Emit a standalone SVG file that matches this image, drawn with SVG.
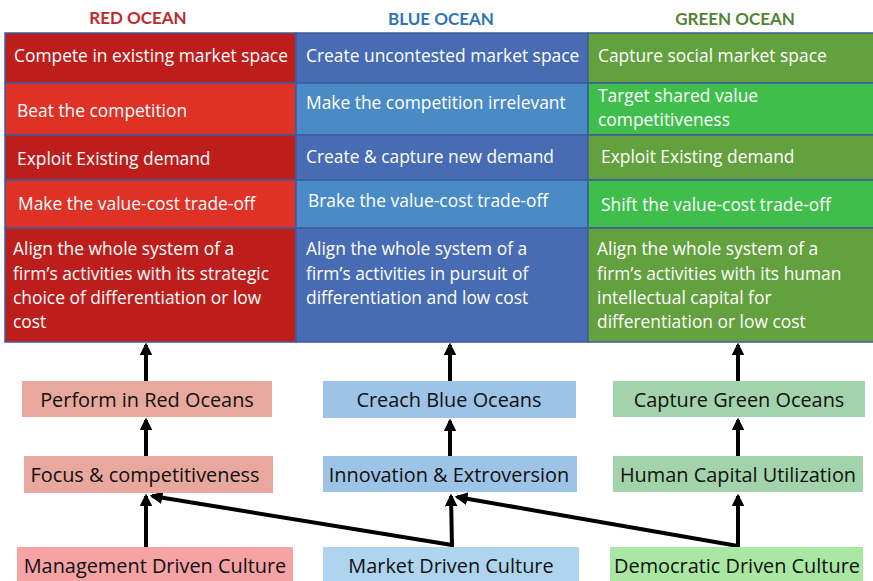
<svg xmlns="http://www.w3.org/2000/svg" width="873" height="581" viewBox="0 0 873 581">
<style>
.t{font-family:"Open Sans","Noto Sans","DejaVu Sans",sans-serif;}
.title{font-family:Lato,"Open Sans",sans-serif;font-size:17px;font-weight:bold;text-anchor:middle;}
.cell{stroke:#3E5C9A;stroke-width:1.5;}
.ct{fill:#fff;font-size:17.4px;}
.bt{fill:#111;font-size:19.9px;text-anchor:middle;}
.arr{stroke:#000;stroke-width:4;fill:none;marker-end:url(#ah);}
</style>
<defs>
<marker id="ah" markerWidth="3.2" markerHeight="3.2" refX="2.6" refY="1.6" orient="auto" markerUnits="strokeWidth" viewBox="0 0 3.2 3.2">
<path d="M0,0 L3.2,1.6 L0,3.2 Z" fill="#000"/>
</marker>
</defs>
<rect width="873" height="581" fill="#fff"/>
<g id="titles">
<text class="title" x="138" y="24" fill="#C0282A">RED OCEAN</text>
<text class="title" x="441" y="25" fill="#2E75B6">BLUE OCEAN</text>
<text class="title" x="735" y="25" fill="#548235">GREEN OCEAN</text>
</g>
<g id="red-column" class="t">
<rect class="cell" x="5" y="33" width="291" height="50" fill="#BE1E1B"/>
<rect class="cell" x="5" y="83" width="291" height="52" fill="#E03127"/>
<rect class="cell" x="5" y="135" width="291" height="45" fill="#BE1E1B"/>
<rect class="cell" x="5" y="180" width="291" height="48" fill="#E03127"/>
<rect class="cell" x="5" y="228" width="291" height="114" fill="#BE1E1B"/>
<text class="ct" x="14" y="62">Compete in existing market space</text>
<text class="ct" x="17" y="117">Beat the competition</text>
<text class="ct" x="17" y="165">Exploit Existing demand</text>
<text class="ct" x="18" y="210">Make the value-cost trade-off</text>
<text class="ct" x="13" y="255">Align the whole system of a</text>
<text class="ct" x="13" y="280">firm’s activities with its strategic</text>
<text class="ct" x="13" y="304">choice of differentiation or low</text>
<text class="ct" x="13" y="328">cost</text>
</g>
<g id="blue-column" class="t">
<rect class="cell" x="296" y="33" width="292" height="50" fill="#476CB4"/>
<rect class="cell" x="296" y="83" width="292" height="52" fill="#4A8BC6"/>
<rect class="cell" x="296" y="135" width="292" height="45" fill="#476CB4"/>
<rect class="cell" x="296" y="180" width="292" height="48" fill="#4A8BC6"/>
<rect class="cell" x="296" y="228" width="292" height="114" fill="#476CB4"/>
<text class="ct" x="306" y="62">Create uncontested market space</text>
<text class="ct" x="306" y="109">Make the competition irrelevant</text>
<text class="ct" x="306" y="163">Create &amp; capture new demand</text>
<text class="ct" x="308" y="207">Brake the value-cost trade-off</text>
<text class="ct" x="306" y="255">Align the whole system of a</text>
<text class="ct" x="306" y="280">firm’s activities in pursuit of</text>
<text class="ct" x="306" y="304">differentiation and low cost</text>
</g>
<g id="green-column" class="t">
<rect class="cell" x="588" y="33" width="290" height="50" fill="#63A03E"/>
<rect class="cell" x="588" y="83" width="290" height="52" fill="#3FBE4B"/>
<rect class="cell" x="588" y="135" width="290" height="45" fill="#63A03E"/>
<rect class="cell" x="588" y="180" width="290" height="48" fill="#3FBE4B"/>
<rect class="cell" x="588" y="228" width="290" height="114" fill="#63A03E"/>
<text class="ct" x="598" y="62">Capture social market space</text>
<text class="ct" x="598" y="102">Target shared value</text>
<text class="ct" x="598" y="126">competitiveness</text>
<text class="ct" x="601" y="163">Exploit Existing demand</text>
<text class="ct" x="601" y="211">Shift the value-cost trade-off</text>
<text class="ct" x="597" y="255">Align the whole system of a</text>
<text class="ct" x="597" y="280">firm’s activities with its human</text>
<text class="ct" x="597" y="304">intellectual capital for</text>
<text class="ct" x="597" y="328">differentiation or low cost</text>
</g>
<g id="connectors">
<line class="arr" x1="146" y1="381" x2="146" y2="345"/>
<line class="arr" x1="146" y1="456" x2="146" y2="420"/>
<line class="arr" x1="146" y1="547" x2="146" y2="496"/>
<line class="arr" x1="450" y1="381" x2="450" y2="345"/>
<line class="arr" x1="450" y1="456" x2="450" y2="421"/>
<line class="arr" x1="452" y1="547" x2="451" y2="496"/>
<line class="arr" x1="738" y1="381" x2="738" y2="345"/>
<line class="arr" x1="738" y1="456" x2="738" y2="420"/>
<line class="arr" x1="738" y1="547" x2="738" y2="496"/>
<polyline class="arr" points="452,545 152,496"/>
<polyline class="arr" points="738,546 457,497"/>
</g>
<g id="perform-red" class="t"><rect x="22" y="381" width="250" height="36" fill="#E8A89D"/><text class="bt" x="147" y="407">Perform in Red Oceans</text></g>
<g id="creach-blue" class="t"><rect x="323" y="381" width="253" height="37" fill="#9DC3E6"/><text class="bt" x="449" y="407">Creach Blue Oceans</text></g>
<g id="capture-green" class="t"><rect x="613" y="381" width="252" height="36" fill="#A2D3AA"/><text class="bt" x="739" y="407">Capture Green Oceans</text></g>
<g id="focus" class="t"><rect x="24" y="456" width="249" height="37" fill="#E8A89D"/><text class="bt" x="145" y="482">Focus &amp; competitiveness</text></g>
<g id="innovation" class="t"><rect x="323" y="456" width="254" height="36" fill="#9DC3E6"/><text class="bt" x="449" y="482">Innovation &amp; Extroversion</text></g>
<g id="human-capital" class="t"><rect x="613" y="456" width="250" height="36" fill="#A2D3AA"/><text class="bt" x="738" y="482">Human Capital Utilization</text></g>
<g id="management" class="t"><rect x="17" y="547" width="276" height="34" fill="#F5A3A5"/><text class="bt" x="155" y="573">Management Driven Culture</text></g>
<g id="market" class="t"><rect x="323" y="547" width="256" height="34" fill="#AFD4EE"/><text class="bt" x="451" y="573">Market Driven Culture</text></g>
<g id="democratic" class="t"><rect x="610" y="547" width="253" height="34" fill="#A9E7A2"/><text class="bt" x="737" y="573">Democratic Driven Culture</text></g>
</svg>
